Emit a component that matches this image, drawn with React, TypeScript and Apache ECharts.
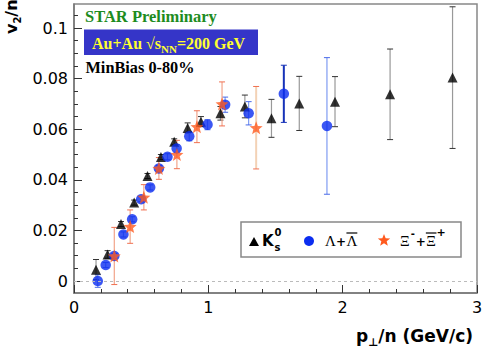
import React, { useEffect, useRef } from "react";
import * as echarts from "echarts";

// ---- data ----
const kaonPt = [0.164, 0.25, 0.35, 0.448, 0.547, 0.647, 0.746, 0.846, 0.945, 1.09, 1.272, 1.47, 1.677, 1.943, 2.353, 2.818];
const kaonV2 = [0.0045, 0.0105, 0.0225, 0.031, 0.0415, 0.049, 0.055, 0.0605, 0.063, 0.0663, 0.069, 0.0643, 0.0702, 0.0709, 0.0738, 0.0804];
const kaonErr = [0.004, 0.0015, 0.001, 0.001, 0.001, 0.001, 0.0012, 0.002, 0.002, 0.0027, 0.0045, 0.0075, 0.0107, 0.0099, 0.0179, 0.028];

const lambdaPt = [0.177, 0.236, 0.3, 0.368, 0.433, 0.5, 0.567, 0.632, 0.696, 0.764, 0.858, 0.994, 1.125, 1.3, 1.562, 1.883];
const lambdaV2 = [0.0, 0.0063, 0.0099, 0.0184, 0.0244, 0.0323, 0.037, 0.0445, 0.0491, 0.0524, 0.0572, 0.0618, 0.0697, 0.0663, 0.074, 0.0613];
const lambdaErr = [0.0025, 0.001, 0.001, 0.001, 0.001, 0.001, 0.001, 0.0012, 0.0012, 0.0015, 0.0018, 0.002, 0.003, 0.0046, 0.0113, 0.027];

const xiPt = [0.3, 0.418, 0.52, 0.632, 0.766, 0.915, 1.102, 1.356];
const xiV2 = [0.0099, 0.0215, 0.0331, 0.0445, 0.05, 0.061, 0.07, 0.0606];
const xiErr = [0.0113, 0.0066, 0.005, 0.0043, 0.0056, 0.0063, 0.0087, 0.0163];

const xTickValues = [0, 1, 2, 3];
const xTickLabels = ["0", "1", "2", "3"];
const yTickValues = [0, 0.02, 0.04, 0.06, 0.08, 0.1];
const yTickLabels = ["0", "0.02", "0.04", "0.06", "0.08", "0.1"];
const yMinorTickValues = [0.005, 0.01, 0.015, 0.025, 0.03, 0.035, 0.045, 0.05, 0.055, 0.065, 0.07, 0.075, 0.085, 0.09, 0.095, 0.105];

// ---- styles ----
const Y_MIN = -0.00474;
const Y_MAX = 0.1095;
const KAON_COLOR = "#000000";
const LAMBDA_COLOR = "#0b2df0";
const XI_COLOR = "#ff5a1e";
const kaonErrStyle = { bar: "#999999", cap: "#333333", width: 1.2 };
const lambdaErrStyle = { bar: "#7f9bf2", cap: "#4a6ae8", width: 1.2 };
const xiErrStyle = { bar: "#f2a48a", cap: "#f07050", width: 1.2 };
const lambdaErrOverride: Record<number, { bar: string; cap: string; width: number }> = {
  14: { bar: "#1632b8", cap: "#1632b8", width: 2 },
};
const xiErrOverride: Record<number, { bar: string; cap: string; width: number }> = {
  7: { bar: "#f3d2b6", cap: "#f07050", width: 2 },
};

const SANS = '"DejaVu Sans"';
const SERIF = '"Liberation Serif"';

let measureCtx: CanvasRenderingContext2D | null = null;
function tw(t: string, font: string): number {
  if (!measureCtx) measureCtx = document.createElement("canvas").getContext("2d");
  if (!measureCtx) return t.length * 8;
  measureCtx.font = font;
  return measureCtx.measureText(t).width;
}

type Piece = { t: string; font: string; size: number; rise?: number; gap?: number; fill?: string };

function textEl(t: string, x: number, base: number, font: string, size: number, fill: string) {
  return {
    type: "text",
    silent: true,
    style: {
      text: t,
      x,
      y: base - 0.34 * size,
      font,
      fill,
      textAlign: "left",
      align: "left",
      textVerticalAlign: "middle",
      verticalAlign: "middle",
    },
  };
}

function runText(pieces: Piece[], x0: number, base: number, fill: string) {
  const els: any[] = [];
  let x = x0;
  for (const p of pieces) {
    x += p.gap || 0;
    els.push(textEl(p.t, x, base - (p.rise || 0), p.font, p.size, p.fill || fill));
    x += tw(p.t, p.font);
  }
  return { els, end: x };
}

function runWidth(pieces: Piece[]) {
  let w = 0;
  for (const p of pieces) w += (p.gap || 0) + tw(p.t, p.font);
  return w;
}

function starPoints(cx: number, cy: number, R: number, r: number) {
  const pts: number[][] = [];
  for (let i = 0; i < 10; i++) {
    const a = -Math.PI / 2 + (i * Math.PI) / 5;
    const rad = i % 2 === 0 ? R : r;
    pts.push([cx + rad * Math.cos(a), cy + rad * Math.sin(a)]);
  }
  return pts;
}

const starPath =
  "path://" +
  starPoints(10, 10, 10, 4.3)
    .map((p, i) => (i === 0 ? "M" : "L") + p[0].toFixed(2) + "," + p[1].toFixed(2))
    .join(" ") +
  " Z";

function errorSeries(
  xs: number[],
  ys: number[],
  es: number[],
  base: { bar: string; cap: string; width: number },
  override: Record<number, { bar: string; cap: string; width: number }>
) {
  return {
    type: "custom",
    silent: true,
    clip: false,
    data: xs.map((x, i) => [x, ys[i], es[i]]),
    encode: { x: 0, y: 1 },
    renderItem: (params: any, api: any) => {
      const x = api.value(0);
      const y = api.value(1);
      const e = api.value(2);
      const st = override[params.dataIndex] || base;
      const top = api.coord([x, y + e]);
      const bot = api.coord([x, y - e]);
      const cw = 3;
      return {
        type: "group",
        children: [
          { type: "line", shape: { x1: top[0], y1: top[1], x2: bot[0], y2: bot[1] }, style: { stroke: st.bar, lineWidth: st.width } },
          { type: "line", shape: { x1: top[0] - cw, y1: top[1], x2: top[0] + cw, y2: top[1] }, style: { stroke: st.cap, lineWidth: 1 } },
          { type: "line", shape: { x1: bot[0] - cw, y1: bot[1], x2: bot[0] + cw, y2: bot[1] }, style: { stroke: st.cap, lineWidth: 1 } },
        ],
      };
    },
  };
}

function buildGraphics() {
  const g: any[] = [];

  // Top-left annotations
  g.push(...runText([{ t: "STAR Preliminary", font: `bold 16.5px ${SERIF}`, size: 16.5 }], 85, 22, "#1e8c1e").els);
  g.push({
    type: "rect",
    silent: true,
    shape: { x: 84, y: 29.5, width: 174, height: 25.5 },
    style: { fill: "#3535c8" },
  });
  g.push(
    ...runText(
      [
        { t: "Au+Au \u221As", font: `bold 16px ${SERIF}`, size: 16 },
        { t: "NN", font: `bold 11px ${SERIF}`, size: 11, rise: -4.5 },
        { t: "=200 GeV", font: `bold 16px ${SERIF}`, size: 16 },
      ],
      92,
      48.5,
      "#ffff30"
    ).els
  );
  g.push(...runText([{ t: "MinBias 0-80%", font: `bold 16.3px ${SERIF}`, size: 16.3 }], 85.5, 72.7, "#000").els);

  // Y axis title (rotated)
  const yTitle: Piece[] = [
    { t: "v", font: `bold 16px ${SANS}`, size: 16 },
    { t: "2", font: `bold 10px ${SANS}`, size: 10, rise: -4 },
    { t: "/n", font: `bold 16px ${SANS}`, size: 16 },
  ];
  g.push({
    type: "group",
    x: 17,
    y: 34,
    rotation: Math.PI / 2,
    silent: true,
    children: runText(yTitle, 0, 0, "#000").els,
  });

  // X axis title
  const xTitle: Piece[] = [
    { t: "p", font: `bold 17px ${SANS}`, size: 17 },
    { t: "\u22A5", font: `bold 11px ${SANS}`, size: 11, rise: -4 },
    { t: "/n (GeV/c)", font: `bold 17px ${SANS}`, size: 17 },
  ];
  g.push(...runText(xTitle, 473 - runWidth(xTitle), 342, "#000").els);

  // Legend
  g.push({
    type: "rect",
    silent: true,
    shape: { x: 241, y: 222, width: 220, height: 35 },
    style: { fill: "#ffffff", stroke: "#888888", lineWidth: 1.5 },
  });
  g.push({
    type: "polygon",
    silent: true,
    shape: { points: [[249, 246], [259, 246], [254, 237]] },
    style: { fill: KAON_COLOR },
  });
  const kFont = `bold 15px ${SANS}`;
  g.push(textEl("K", 262, 246.5, kFont, 15, "#000"));
  const kw = tw("K", kFont);
  g.push(textEl("0", 263 + kw, 236, `bold 10px ${SANS}`, 10, "#000"));
  g.push(textEl("s", 263 + kw, 250.5, `bold 10px ${SANS}`, 10, "#000"));

  g.push({ type: "circle", silent: true, shape: { cx: 309, cy: 241, r: 5 }, style: { fill: LAMBDA_COLOR } });
  const lamFont = `15px ${SERIF}`;
  const lam = runText(
    [
      { t: "\u039B", font: lamFont, size: 15 },
      { t: "+", font: `bold 12px ${SANS}`, size: 12 },
    ],
    325,
    246,
    "#000"
  );
  g.push(...lam.els);
  const lamStart = lam.end + 0.5;
  g.push(textEl("\u039B", lamStart, 246, lamFont, 15, "#000"));
  g.push({
    type: "line",
    silent: true,
    shape: { x1: lamStart, y1: 233, x2: lamStart + tw("\u039B", lamFont), y2: 233 },
    style: { stroke: "#000", lineWidth: 1.2 },
  });

  g.push({
    type: "polygon",
    silent: true,
    shape: { points: starPoints(384, 240.5, 6.5, 2.8) },
    style: { fill: XI_COLOR },
  });
  const xiFont = `15px ${SERIF}`;
  const xi1 = runText(
    [
      { t: "\u039E", font: xiFont, size: 15 },
      { t: "-", font: `bold 10px ${SANS}`, size: 10, rise: 9, gap: 1 },
      { t: "+", font: `bold 12px ${SANS}`, size: 12, gap: 1 },
    ],
    400,
    246,
    "#000"
  );
  g.push(...xi1.els);
  const xiStart = xi1.end + 0.5;
  const xiW = tw("\u039E", xiFont);
  g.push(textEl("\u039E", xiStart, 246, xiFont, 15, "#000"));
  g.push({
    type: "line",
    silent: true,
    shape: { x1: xiStart - 0.5, y1: 233, x2: xiStart + xiW + 0.5, y2: 233 },
    style: { stroke: "#000", lineWidth: 1.2 },
  });
  g.push(textEl("+", xiStart + xiW + 0.5, 236, `bold 11px ${SANS}`, 11, "#000"));

  return g;
}

function findLabel(v: number, values: number[], labels: string[]) {
  for (let i = 0; i < values.length; i++) if (Math.abs(v - values[i]) < 1e-9) return labels[i];
  return "";
}

export default function App() {
  const ref = useRef<HTMLDivElement>(null);
  useEffect(() => {
    if (!ref.current) return;
    const chart = echarts.init(ref.current, null, { renderer: "svg" });
    const axisLineStyle = { color: "#777777", width: 1.5 };
    const tickLine = { color: "#333333", width: 1 };
    chart.setOption({
      animation: false,
      backgroundColor: "#ffffff",
      grid: {
        left: 74,
        right: 14,
        top: 4,
        bottom: 61,
        show: true,
        borderColor: "#888888",
        borderWidth: 1.5,
        backgroundColor: "transparent",
      },
      xAxis: {
        type: "value",
        min: 0,
        max: 3,
        interval: 1,
        axisLine: { show: true, onZero: false, lineStyle: axisLineStyle },
        axisTick: { show: true, inside: true, length: 8, lineStyle: tickLine },
        minorTick: { show: true, splitNumber: 5, length: 4, lineStyle: tickLine },
        splitLine: { show: false },
        minorSplitLine: { show: false },
        axisLabel: {
          fontFamily: "DejaVu Sans",
          fontSize: 16,
          color: "#000",
          margin: 6,
          formatter: (v: number) => findLabel(v, xTickValues, xTickLabels),
        },
      },
      yAxis: [
        {
          type: "value",
          min: Y_MIN,
          max: Y_MAX,
          axisLine: { show: true, onZero: false, lineStyle: axisLineStyle },
          axisTick: { show: true, inside: true, length: 8, lineStyle: tickLine, customValues: yTickValues },
          splitLine: { show: false },
          axisLabel: {
            customValues: yTickValues,
            fontFamily: "DejaVu Sans",
            fontSize: 16,
            color: "#000",
            margin: 6,
            formatter: (v: number) => findLabel(v, yTickValues, yTickLabels),
          },
        },
        {
          type: "value",
          min: Y_MIN,
          max: Y_MAX,
          position: "left",
          axisLine: { show: false },
          axisTick: { show: true, inside: true, length: 4, lineStyle: tickLine, customValues: yMinorTickValues },
          axisLabel: { show: false },
          splitLine: { show: false },
        },
      ],
      series: [
        {
          type: "scatter",
          data: [],
          silent: true,
          markLine: {
            silent: true,
            symbol: "none",
            label: { show: false },
            lineStyle: { color: "#bbbbbb", type: [3, 3], width: 1 },
            data: [{ yAxis: 0 }],
          },
        },
        errorSeries(kaonPt, kaonV2, kaonErr, kaonErrStyle, {}),
        {
          type: "scatter",
          name: "K0s",
          data: kaonPt.map((x, i) => [x, kaonV2[i]]),
          symbol: "triangle",
          symbolSize: 10,
          itemStyle: { color: KAON_COLOR },
          silent: true,
        },
        errorSeries(lambdaPt, lambdaV2, lambdaErr, lambdaErrStyle, lambdaErrOverride),
        {
          type: "scatter",
          name: "Lambda",
          data: lambdaPt.map((x, i) => [x, lambdaV2[i]]),
          symbol: "circle",
          symbolSize: 10.5,
          itemStyle: { color: LAMBDA_COLOR },
          silent: true,
        },
        errorSeries(xiPt, xiV2, xiErr, xiErrStyle, xiErrOverride),
        {
          type: "scatter",
          name: "Xi",
          data: xiPt.map((x, i) => [x, xiV2[i]]),
          symbol: starPath,
          symbolSize: 13,
          itemStyle: { color: XI_COLOR },
          silent: true,
        },
      ],
      graphic: buildGraphics(),
    });
    return () => chart.dispose();
  }, []);
  return <div ref={ref} style={{ position: "fixed", left: 0, top: 0, width: 491, height: 354 }} />;
}
